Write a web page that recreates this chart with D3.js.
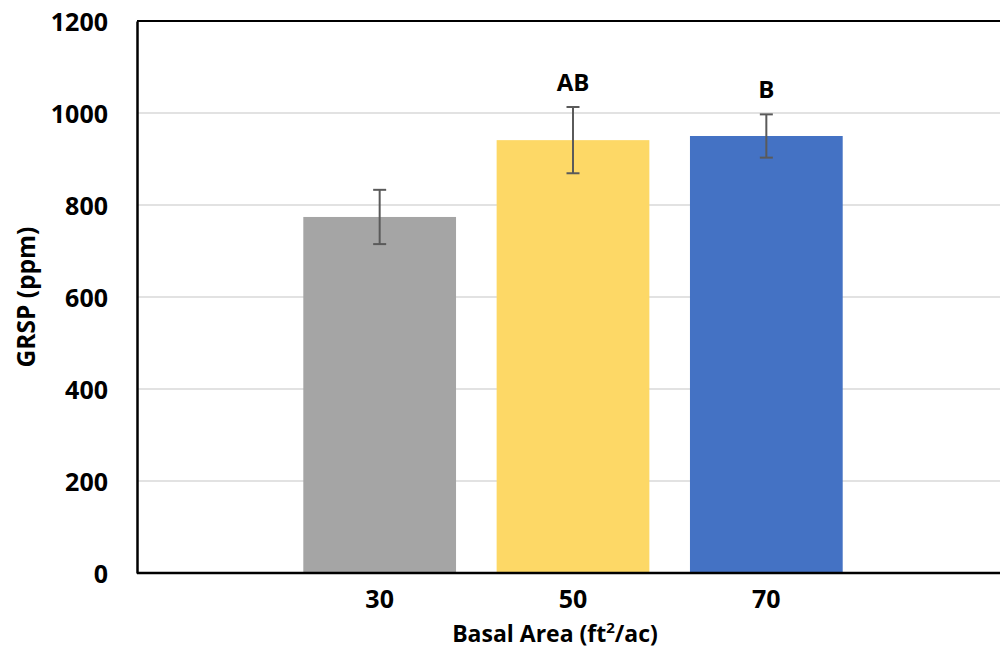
<!DOCTYPE html>
<html>
<head>
<meta charset="utf-8">
<script src="https://cdn.jsdelivr.net/npm/d3@7"></script>
<style>
  html, body { margin: 0; padding: 0; background: #fff; }
  svg { display: block; }
  text { font-family: "Open Sans", Lato, sans-serif; font-weight: 700; fill: #000; }
</style>
</head>
<body>
<svg id="chart" width="1000" height="654"></svg>
<script>
const categories = ["30", "50", "70"];
const means = [774, 941, 950];
const errors = [59, 72, 47];
const letters = ["", "AB", "B"];
const colors = ["#a5a5a5", "#fdd866", "#4472c4"];
const yTicks = [0, 200, 400, 600, 800, 1000, 1200];

const W = 1000, H = 654;
const plot = { left: 137, right: 1000, top: 21, bottom: 573 };
const FONT = "'Open Sans', Lato, sans-serif";

const svg = d3.select("#chart");

const x = d3.scaleBand()
  .domain(categories)
  .range([283, 863])
  .paddingInner(0.21)
  .paddingOuter(0.105);

const y = d3.scaleLinear().domain([0, 1200]).range([plot.bottom, plot.top]);

// gridlines
svg.append("g").selectAll("line")
  .data(yTicks.filter(t => t > 0 && t < 1200))
  .join("line")
  .attr("x1", plot.left).attr("x2", plot.right)
  .attr("y1", d => y(d)).attr("y2", d => y(d))
  .attr("stroke", "#d9d9d9").attr("stroke-width", 1.5);

// bars
svg.append("g").selectAll("rect")
  .data(categories)
  .join("rect")
  .attr("x", d => x(d))
  .attr("width", x.bandwidth())
  .attr("y", (d, i) => y(means[i]))
  .attr("height", (d, i) => y(0) - y(means[i]))
  .attr("fill", (d, i) => colors[i]);

// error bars
const eb = svg.append("g").attr("stroke", "#5a5a5a").attr("stroke-width", 2);
categories.forEach((c, i) => {
  const cx = x(c) + x.bandwidth() / 2;
  const hi = y(means[i] + errors[i]), lo = y(means[i] - errors[i]);
  eb.append("line").attr("x1", cx).attr("x2", cx).attr("y1", hi).attr("y2", lo);
  eb.append("line").attr("x1", cx - 6.5).attr("x2", cx + 6.5).attr("y1", hi).attr("y2", hi);
  eb.append("line").attr("x1", cx - 6.5).attr("x2", cx + 6.5).attr("y1", lo).attr("y2", lo);
});

// significance letters
svg.append("g").selectAll("text")
  .data(categories)
  .join("text")
  .attr("x", d => x(d) + x.bandwidth() / 2)
  .attr("y", (d, i) => y(means[i] + errors[i]) - 16)
  .attr("text-anchor", "middle")
  .attr("font-size", 24)
  .text((d, i) => letters[i]);

// frame: top line
svg.append("line")
  .attr("x1", plot.left).attr("x2", plot.right)
  .attr("y1", plot.top).attr("y2", plot.top)
  .attr("stroke", "#000").attr("stroke-width", 2);

// y axis
const yAxis = svg.append("g")
  .attr("transform", `translate(${plot.left},0)`)
  .call(d3.axisLeft(y).tickValues(yTicks).tickFormat(d3.format("d")).tickSize(0).tickPadding(29));
yAxis.select(".domain").attr("stroke", "#000").attr("stroke-width", 2.5);
yAxis.selectAll("text").attr("font-size", 25).attr("dy", "0.36em")
  .style("font-family", FONT).style("font-weight", 700).attr("fill", "#000");

// x axis
const xAxis = svg.append("g")
  .attr("transform", `translate(0,${plot.bottom})`)
  .call(d3.axisBottom(x).tickSize(0).tickPadding(17));
xAxis.select(".domain").remove();
xAxis.append("line")
  .attr("x1", plot.left).attr("x2", plot.right)
  .attr("y1", 0).attr("y2", 0)
  .attr("stroke", "#000").attr("stroke-width", 2.5);
xAxis.selectAll("text").attr("font-size", 25)
  .style("font-family", FONT).style("font-weight", 700).attr("fill", "#000");

// axis titles
const xt = svg.append("text")
  .attr("x", 555).attr("y", 642)
  .attr("text-anchor", "middle")
  .attr("font-size", 23);
xt.append("tspan").text("Basal Area (ft");
xt.append("tspan").attr("font-size", 15).attr("dy", -9).text("2");
xt.append("tspan").attr("dy", 9).text("/ac)");

svg.append("text")
  .attr("transform", `translate(35,297) rotate(-90)`)
  .attr("text-anchor", "middle")
  .attr("font-size", 24.5)
  .text("GRSP (ppm)");
</script>
</body>
</html>
